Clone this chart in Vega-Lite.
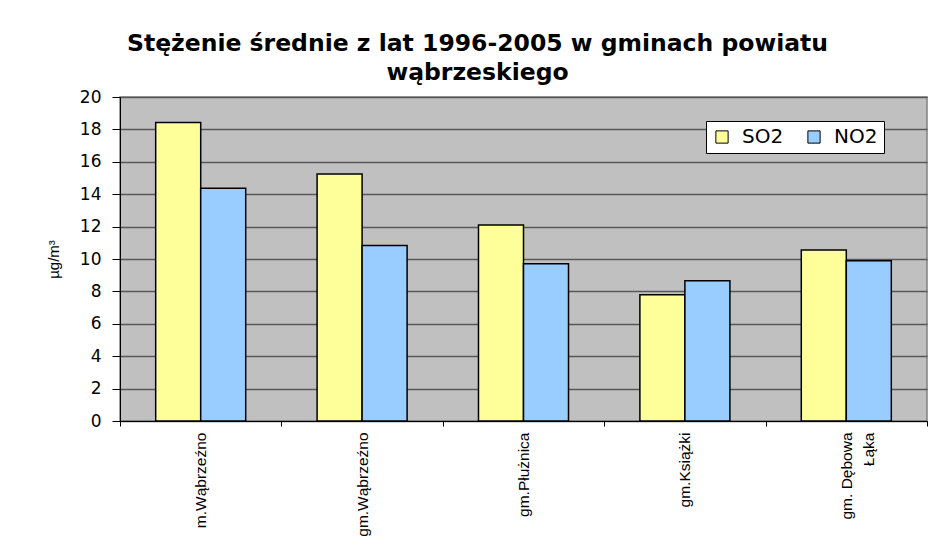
{
  "$schema": "https://vega.github.io/schema/vega-lite/v6.json",
  "autosize": {"type": "none"},
  "padding": {"left": 120, "top": 97, "right": 4, "bottom": 124},
  "width": 807,
  "height": 324,
  "background": "white",
  "title": {
    "text": ["Stężenie średnie z lat 1996-2005 w gminach powiatu", "wąbrzeskiego"],
    "font": "DejaVu Sans",
    "fontSize": 23.5,
    "fontWeight": "bold",
    "color": "black",
    "anchor": "middle",
    "frame": "group",
    "dx": -46,
    "dy": 10,
    "lineHeight": 29,
    "offset": 14
  },
  "data": {
    "values": [
      {"gmina": "m.Wąbrzeźno", "gaz": "SO2", "wartosc": 18.42},
      {"gmina": "m.Wąbrzeźno", "gaz": "NO2", "wartosc": 14.36},
      {"gmina": "gm.Wąbrzeźno", "gaz": "SO2", "wartosc": 15.25},
      {"gmina": "gm.Wąbrzeźno", "gaz": "NO2", "wartosc": 10.84},
      {"gmina": "gm.Płużnica", "gaz": "SO2", "wartosc": 12.1},
      {"gmina": "gm.Płużnica", "gaz": "NO2", "wartosc": 9.7},
      {"gmina": "gm.Książki", "gaz": "SO2", "wartosc": 7.8},
      {"gmina": "gm.Książki", "gaz": "NO2", "wartosc": 8.66},
      {"gmina": "gm. Dębowa Łąka", "gaz": "SO2", "wartosc": 10.56},
      {"gmina": "gm. Dębowa Łąka", "gaz": "NO2", "wartosc": 9.89}
    ]
  },
  "mark": {"type": "bar", "stroke": "black", "strokeWidth": 1.5},
  "encoding": {
    "x": {
      "field": "gmina",
      "type": "nominal",
      "sort": null,
      "scale": {"paddingInner": 0, "paddingOuter": 0},
      "axis": {
        "title": null,
        "tickBand": "extent",
        "labelAngle": -90,
        "labelAlign": "right",
        "labelBaseline": "middle",
        "labelFont": "Liberation Sans",
        "labelFontSize": 15.5,
        "labelColor": "black",
        "labelPadding": 6,
        "tickSize": 5,
        "tickColor": "black",
        "domainColor": "black",
        "labelLimit": 200,
        "labelLineHeight": 22,
        "labelExpr": "datum.label == 'gm. Dębowa Łąka' ? ['gm. Dębowa', 'Łąka'] : datum.label"
      }
    },
    "xOffset": {
      "field": "gaz",
      "type": "nominal",
      "sort": ["SO2", "NO2"],
      "scale": {"paddingInner": 0, "paddingOuter": 0.793}
    },
    "y": {
      "field": "wartosc",
      "type": "quantitative",
      "scale": {"domain": [0, 20], "nice": false},
      "axis": {
        "title": "µg/m³",
        "titleFont": "Liberation Sans",
        "titleFontSize": 15,
        "titleFontWeight": "normal",
        "titleColor": "black",
        "titlePadding": 18,
        "values": [0, 2, 4, 6, 8, 10, 12, 14, 16, 18, 20],
        "labelFont": "DejaVu Sans",
        "labelFontSize": 17,
        "labelColor": "black",
        "labelPadding": 11,
        "tickSize": 8,
        "tickColor": "black",
        "domainColor": "black",
        "grid": true,
        "gridColor": "#585858",
        "gridWidth": 1.5
      }
    },
    "color": {
      "field": "gaz",
      "type": "nominal",
      "sort": ["SO2", "NO2"],
      "scale": {"domain": ["SO2", "NO2"], "range": ["#FFFF99", "#99CCFF"]},
      "legend": {
        "title": null,
        "orient": "none",
        "legendX": 586,
        "legendY": 24,
        "direction": "horizontal",
        "fillColor": "white",
        "strokeColor": "black",
        "padding": 6,
        "symbolType": "square",
        "symbolSize": 150,
        "symbolStrokeColor": "black",
        "symbolStrokeWidth": 1,
        "labelFont": "DejaVu Sans",
        "labelFontSize": 20,
        "labelColor": "black",
        "labelOffset": 10,
        "columnPadding": 20
      }
    }
  },
  "config": {
    "view": {"fill": "#C0C0C0", "stroke": "#808080", "strokeWidth": 1.5}
  }
}
